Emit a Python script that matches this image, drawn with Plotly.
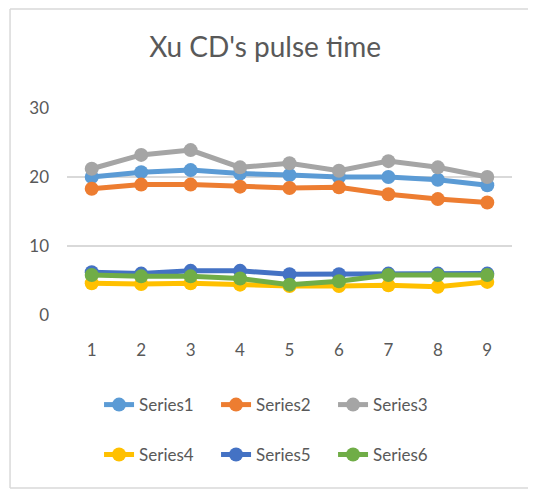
import plotly.graph_objects as go

x_vals = [1, 2, 3, 4, 5, 6, 7, 8, 9]
series_names = ["Series1", "Series2", "Series3", "Series4", "Series5", "Series6"]
series1 = [20.0, 20.7, 21.0, 20.5, 20.3, 20.0, 20.0, 19.6, 18.8]
series2 = [18.3, 18.9, 18.9, 18.6, 18.4, 18.5, 17.5, 16.8, 16.3]
series3 = [21.2, 23.2, 23.9, 21.4, 22.0, 20.9, 22.3, 21.4, 20.0]
series4 = [4.6, 4.5, 4.6, 4.4, 4.2, 4.2, 4.3, 4.1, 4.8]
series5 = [6.2, 6.0, 6.4, 6.4, 5.9, 5.9, 6.0, 6.0, 6.0]
series6 = [5.8, 5.6, 5.6, 5.3, 4.4, 4.9, 5.8, 5.8, 5.8]
y_ticks = [0, 10, 20, 30]

colors = ["#5B9BD5", "#ED7D31", "#A5A5A5", "#FFC000", "#4472C4", "#70AD47"]
all_series = [series1, series2, series3, series4, series5, series6]

FONT = "Lato, 'Open Sans', sans-serif"
TXT = "#595959"

fig = go.Figure()
for i, (name, ys, col) in enumerate(zip(series_names, all_series, colors)):
    fig.add_trace(go.Scatter(
        x=x_vals, y=ys, name=name,
        mode="lines+markers",
        line=dict(color=col, width=5),
        marker=dict(color=col, size=14),
        legend="legend" if i < 3 else "legend2",
    ))

legend_style = dict(
    orientation="h", xanchor="left", yanchor="middle",
    font=dict(family=FONT, size=17, color=TXT),
    bgcolor="rgba(0,0,0,0)", itemwidth=30, entrywidth=72,
)

# page body adds 8px, so the figure is 8px smaller than the window
fig.update_layout(
    width=528, height=482,
    paper_bgcolor="white", plot_bgcolor="white",
    margin=dict(l=59, r=24, t=100, b=175),
    title=dict(text="Xu CD's pulse time", x=0.487, xanchor="center",
               y=0.919, yanchor="middle",
               font=dict(family=FONT, size=28, color=TXT)),
    xaxis=dict(range=[0.5, 9.5], tickvals=x_vals, showgrid=False,
               zeroline=False, showline=False, ticks="",
               ticklabelstandoff=23,
               tickfont=dict(family=FONT, size=17, color=TXT)),
    yaxis=dict(range=[0, 30], tickvals=y_ticks, showgrid=True,
               gridcolor="#D9D9D9", gridwidth=1.5, zeroline=False,
               showline=False, ticks="", ticklabelstandoff=17,
               tickfont=dict(family=FONT, size=17, color=TXT)),
    legend=dict(x=0.072, y=-0.435, **legend_style),
    legend2=dict(x=0.072, y=-0.676, **legend_style),
    showlegend=True,
)

# chart frame: left, top and bottom edges only
frame = dict(color="#D9D9D9", width=1.5)
x_left, x_right, y_bot, y_top = -0.128, 1.1, -0.836, 1.478
for x0, y0, x1, y1 in [(x_left, y_bot, x_left, y_top),
                       (x_left, y_top, x_right, y_top),
                       (x_left, y_bot, x_right, y_bot)]:
    fig.add_shape(type="line", xref="paper", yref="paper",
                  x0=x0, y0=y0, x1=x1, y1=y1, line=frame, layer="below")

fig.write_html("out.html")
